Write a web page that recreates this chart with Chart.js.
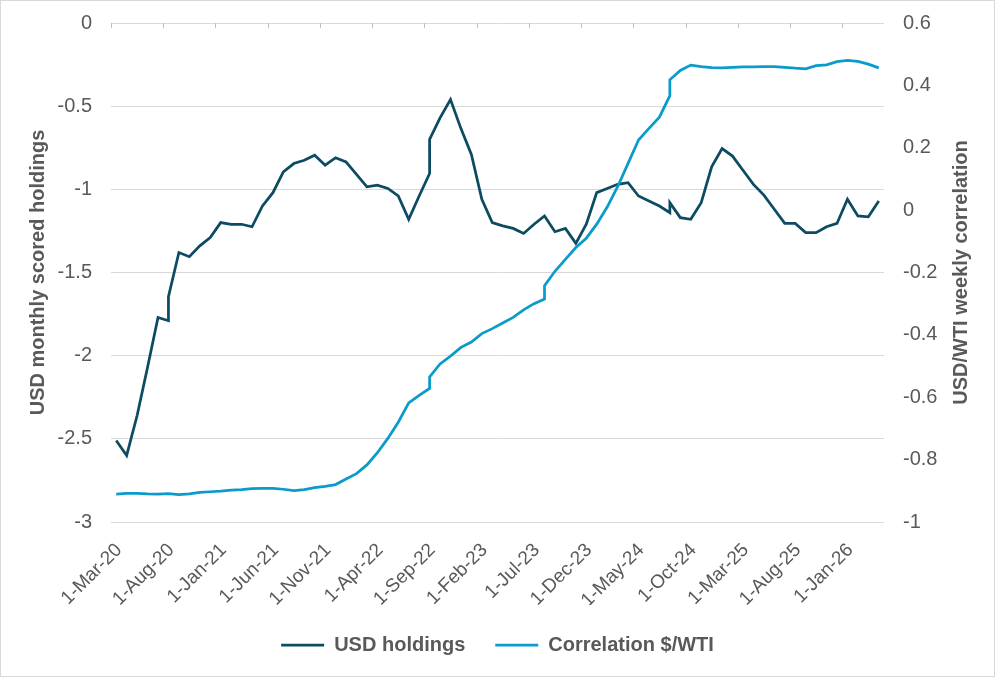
<!DOCTYPE html>
<html>
<head>
<meta charset="utf-8">
<script src="https://cdn.jsdelivr.net/npm/chart.js@4/dist/chart.umd.min.js"></script>
<style>
  html, body { margin: 0; padding: 0; background: #fff; }
  #wrap { width: 995px; height: 677px; box-sizing: border-box; border: 1px solid #d9d9d9; position: relative; }
  canvas { display: block; }
</style>
</head>
<body>
<div id="wrap"><canvas id="c"></canvas></div>
<script>
// Month offsets from 1-Mar-20 (x) and values
const tickLabels = ['1-Mar-20','1-Aug-20','1-Jan-21','1-Jun-21','1-Nov-21','1-Apr-22','1-Sep-22','1-Feb-23','1-Jul-23','1-Dec-23','1-May-24','1-Oct-24','1-Mar-25','1-Aug-25','1-Jan-26'];

const usdX = [0.5,1.5,2.5,3.5,4.5,5.5,5.5,6.5,7.5,8.5,9.5,10.5,11.5,12.5,13.5,14.5,15.5,16.5,17.5,18.5,19.5,20.5,21.5,22.5,23.5,24.5,25.5,26.5,27.5,28.5,29.5,30.5,30.5,31.5,32.5,33.5,34.5,35.5,36.5,37.5,38.5,39.5,40.5,41.5,42.5,43.5,44.5,45.5,46.5,47.5,48.5,49.5,50.5,51.5,52.5,53.5,53.5,54.5,55.5,56.5,57.5,58.5,59.5,60.5,61.5,62.5,63.5,64.5,65.5,66.5,67.5,68.5,69.5,70.5,71.5,72.5,73.5];
const usdY = [-2.51,-2.60,-2.36,-2.07,-1.77,-1.79,-1.645,-1.38,-1.405,-1.34,-1.29,-1.20,-1.21,-1.21,-1.225,-1.10,-1.02,-0.895,-0.845,-0.825,-0.795,-0.855,-0.81,-0.835,-0.91,-0.985,-0.975,-0.995,-1.04,-1.18,-1.04,-0.905,-0.70,-0.57,-0.46,-0.635,-0.79,-1.06,-1.20,-1.22,-1.235,-1.265,-1.21,-1.16,-1.255,-1.235,-1.325,-1.21,-1.02,-0.995,-0.97,-0.96,-1.04,-1.07,-1.10,-1.14,-1.08,-1.17,-1.18,-1.08,-0.865,-0.755,-0.80,-0.885,-0.97,-1.035,-1.12,-1.205,-1.205,-1.26,-1.26,-1.225,-1.205,-1.06,-1.16,-1.165,-1.07];

const corrX = [0.5,1.5,2.5,3.5,4.5,5.5,6.5,7.5,8.5,9.5,10.5,11.5,12.5,13.5,14.5,15.5,16.5,17.5,18.5,19.5,20.5,21.5,22.5,23.5,24.5,25.5,26.5,27.5,28.5,29.5,30.5,30.5,31.5,32.5,33.5,34.5,35.5,36.5,37.5,38.5,39.5,40.5,41.5,41.5,42.5,43.5,44.5,45.5,46.5,47.5,48.5,49.5,50.5,51.5,52.5,53.5,53.5,54.5,55.5,56.5,57.5,58.5,59.5,60.5,61.5,62.5,63.5,64.5,65.5,66.5,67.5,68.5,69.5,70.5,71.5,72.5,73.5];
const corrY = [-0.911,-0.908,-0.908,-0.910,-0.911,-0.909,-0.912,-0.910,-0.905,-0.903,-0.901,-0.898,-0.896,-0.893,-0.892,-0.892,-0.895,-0.899,-0.896,-0.890,-0.886,-0.880,-0.862,-0.845,-0.817,-0.778,-0.732,-0.680,-0.618,-0.594,-0.572,-0.535,-0.493,-0.468,-0.440,-0.423,-0.396,-0.380,-0.362,-0.344,-0.320,-0.300,-0.285,-0.242,-0.196,-0.158,-0.120,-0.090,-0.045,0.010,0.075,0.150,0.225,0.262,0.298,0.367,0.418,0.448,0.465,0.460,0.457,0.456,0.458,0.459,0.459,0.460,0.460,0.458,0.455,0.453,0.463,0.466,0.476,0.480,0.477,0.468,0.456];

const seriesNames = ['USD holdings', 'Correlation $/WTI'];
const leftTitle = 'USD monthly scored holdings';
const rightTitle = 'USD/WTI weekly correlation';

const TXT = '#595959';
const GRID = '#d9d9d9';
const FONT = '"Liberation Sans", Arial, sans-serif';

const topTicks = {
  id: 'topTicks',
  beforeDatasetsDraw(chart) {
    const {ctx, chartArea} = chart;
    const xs = chart.scales.x;
    ctx.save();
    ctx.strokeStyle = '#bfbfbf';
    ctx.lineWidth = 1;
    xs.ticks.forEach(t => {
      const px = Math.round(xs.getPixelForValue(t.value)) + 0.5;
      ctx.beginPath();
      ctx.moveTo(px, chartArea.top);
      ctx.lineTo(px, chartArea.top + 5);
      ctx.stroke();
    });
    ctx.restore();
  }
};

const rightTitlePlugin = {
  id: 'rightTitle',
  afterDraw(chart) {
    const {ctx, chartArea} = chart;
    const ys = chart.scales.y2;
    ctx.save();
    ctx.translate(ys.right - 33, (chartArea.top + chartArea.bottom) / 2);
    ctx.rotate(-Math.PI / 2);
    ctx.font = 'bold 20px ' + FONT;
    ctx.fillStyle = TXT;
    ctx.textAlign = 'center';
    ctx.textBaseline = 'middle';
    ctx.fillText(rightTitle, 0, 0);
    ctx.restore();
  }
};

function fixY(s) { s.width = 110; s.paddingTop = 0; s.paddingBottom = 0; }

new Chart(document.getElementById('c'), {
  type: 'line',
  data: {
    datasets: [
      {
        label: seriesNames[0],
        data: usdX.map((x, i) => ({x, y: usdY[i]})),
        yAxisID: 'y',
        borderColor: '#0C4B61',
        backgroundColor: '#0C4B61',
        borderWidth: 2.75,
        pointRadius: 0,
        tension: 0,
        order: 1
      },
      {
        label: seriesNames[1],
        data: corrX.map((x, i) => ({x, y: corrY[i]})),
        yAxisID: 'y2',
        borderColor: '#0A9BCB',
        backgroundColor: '#0A9BCB',
        borderWidth: 2.75,
        pointRadius: 0,
        tension: 0,
        order: 0
      }
    ]
  },
  options: {
    responsive: true,
    maintainAspectRatio: false,
    animation: false,
    layout: { padding: { left: 0, right: 0, top: 22, bottom: 11 } },
    plugins: {
      tooltip: { enabled: false },
      legend: {
        position: 'bottom',
        labels: {
          usePointStyle: true,
          pointStyle: 'line',
          pointStyleWidth: 43,
          boxHeight: 20,
          padding: 30,
          color: TXT,
          font: { family: FONT, size: 20, weight: 'bold' },
          sort: (a, b) => a.datasetIndex - b.datasetIndex
        }
      }
    },
    scales: {
      x: {
        type: 'linear',
        min: 0,
        max: 74,
        grid: { display: false },
        border: { display: false },
        afterFit(s) { s.height = 83; },
        ticks: {
          stepSize: 5,
          includeBounds: false,
          autoSkip: false,
          maxRotation: 45,
          minRotation: 45,
          padding: 9,
          labelOffset: 8,
          color: TXT,
          font: { family: FONT, size: 19 },
          callback: v => tickLabels[Math.round(v / 5)] ?? ''
        }
      },
      y: {
        position: 'left',
        min: -3,
        max: 0,
        afterFit: fixY,
        grid: { color: GRID, lineWidth: 1, drawTicks: false },
        border: { display: false },
        ticks: {
          stepSize: 0.5,
          padding: 19,
          color: TXT,
          font: { family: FONT, size: 20 },
          callback: v => String(Math.round(v * 10) / 10)
        },
        title: {
          display: true,
          text: leftTitle,
          color: TXT,
          font: { family: FONT, size: 20, weight: 'bold' },
          padding: { top: 25, bottom: 0 }
        }
      },
      y2: {
        position: 'right',
        min: -1,
        max: 0.6,
        afterFit: fixY,
        grid: { drawOnChartArea: false, drawTicks: false },
        border: { display: false },
        ticks: {
          stepSize: 0.2,
          padding: 19,
          color: TXT,
          font: { family: FONT, size: 20 },
          callback: v => String(Math.round(v * 10) / 10)
        }
      }
    }
  },
  plugins: [topTicks, rightTitlePlugin]
});
</script>
</body>
</html>
